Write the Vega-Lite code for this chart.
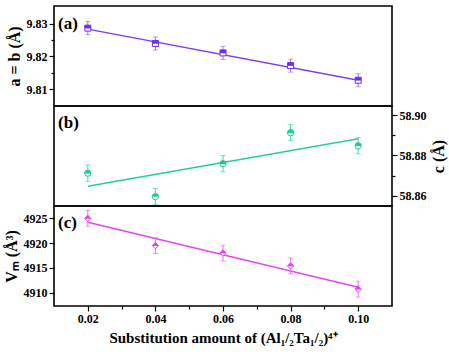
{
  "$schema": "https://vega.github.io/schema/vega-lite/v6.json",
  "padding": {"left": 2, "top": 5, "right": 4, "bottom": 5},
  "background": "white",
  "spacing": 0,
  "bounds": "flush",
  "config": {
    "view": {"stroke": "black", "strokeWidth": 1.6},
    "font": "Liberation Serif",
    "axis": {
      "labelFont": "Liberation Serif", "labelFontWeight": "bold", "labelFontSize": 12, "labelColor": "black",
      "titleFont": "Liberation Serif", "titleFontWeight": "bold", "titleFontSize": 16, "titleColor": "black",
      "tickColor": "black", "tickWidth": 1.2, "domain": false, "grid": false, "labelPadding": 2
    }
  },
  "datasets": {
    "a_pts": [
      {"x": 0.02, "y": 9.8287, "err": 0.002},
      {"x": 0.04, "y": 9.8240, "err": 0.002},
      {"x": 0.06, "y": 9.8211, "err": 0.002},
      {"x": 0.08, "y": 9.8172, "err": 0.002},
      {"x": 0.10, "y": 9.8127, "err": 0.002}
    ],
    "a_fit": [{"x": 0.02, "y": 9.8284}, {"x": 0.10, "y": 9.8127}],
    "a_lab": [{"x": 0.0112, "y": 9.8300, "t": "(a)"}],
    "b_pts": [
      {"x": 0.02, "y": 58.8712, "err": 0.004},
      {"x": 0.04, "y": 58.8596, "err": 0.004},
      {"x": 0.06, "y": 58.8759, "err": 0.004},
      {"x": 0.08, "y": 58.8913, "err": 0.004},
      {"x": 0.10, "y": 58.8848, "err": 0.004}
    ],
    "b_fit": [{"x": 0.02, "y": 58.8647}, {"x": 0.10, "y": 58.8883}],
    "b_lab": [{"x": 0.0112, "y": 58.896, "t": "(b)"}],
    "c_pts": [
      {"x": 0.02, "y": 4925.0, "err": 1.6},
      {"x": 0.04, "y": 4919.5, "err": 1.6},
      {"x": 0.06, "y": 4918.0, "err": 1.6},
      {"x": 0.08, "y": 4915.4, "err": 1.6},
      {"x": 0.10, "y": 4910.7, "err": 1.6}
    ],
    "c_fit": [{"x": 0.02, "y": 4924.2}, {"x": 0.10, "y": 4911.1}],
    "c_lab": [{"x": 0.0112, "y": 4924.0, "t": "(c)"}]
  },
  "vconcat": [
    {
      "width": 338, "height": 100,
      "encoding": {
        "x": {"field": "x", "type": "quantitative", "scale": {"domain": [0.01, 0.11]}, "axis": null},
        "y": {"field": "y", "type": "quantitative", "scale": {"domain": [9.8048, 9.8355], "zero": false, "nice": false},
          "axis": {"title": "a = b (Å)", "values": [9.81, 9.815, 9.82, 9.825, 9.83], "format": ".2f",
            "labelExpr": "round(datum.value*1000)%10==0 ? datum.label : ''",
            "tickSize": {"condition": {"test": "round(datum.value*1000)%10==0", "value": 5}, "value": 3},
            "titlePadding": 4}}
      },
      "layer": [
        {"data": {"name": "a_fit"}, "mark": {"type": "line", "color": "#7a40f0", "strokeWidth": 1.5}},
        {"data": {"name": "a_pts"}, "mark": {"type": "errorbar", "ticks": {"size": 5}, "color": "#9a72f2", "thickness": 1},
          "encoding": {"yError": {"field": "err"}}},
        {"data": {"name": "a_pts"}, "mark": {"type": "point", "shape": "square", "filled": true, "fill": "white", "stroke": "#6a2ff0", "strokeWidth": 1, "size": 36, "opacity": 1}},
        {"data": {"name": "a_pts"}, "mark": {"type": "point", "shape": "M-1,-1H1V0.1H-1Z", "filled": true, "fill": "#6a2ff0", "strokeWidth": 0, "size": 36, "opacity": 1}},
        {"data": {"name": "a_lab"}, "mark": {"type": "text", "align": "left", "baseline": "middle", "font": "Liberation Serif", "fontWeight": "bold", "fontSize": 17, "color": "black"},
          "encoding": {"text": {"field": "t"}}}
      ]
    },
    {
      "width": 338, "height": 100,
      "encoding": {
        "x": {"field": "x", "type": "quantitative", "scale": {"domain": [0.01, 0.11]}, "axis": null},
        "y": {"field": "y", "type": "quantitative", "scale": {"domain": [58.8549, 58.9045], "zero": false, "nice": false},
          "axis": {"orient": "right", "title": "c (Å)", "titleAngle": 270, "titleBaseline": "top", "values": [58.86, 58.87, 58.88, 58.89, 58.90], "format": ".2f",
            "labelExpr": "round(datum.value*100)%2==0 ? datum.label : ''",
            "tickSize": {"condition": {"test": "round(datum.value*100)%2==0", "value": 5}, "value": 3},
            "titlePadding": 4}}
      },
      "layer": [
        {"data": {"name": "b_fit"}, "mark": {"type": "line", "color": "#22d09a", "strokeWidth": 1.5}},
        {"data": {"name": "b_pts"}, "mark": {"type": "errorbar", "ticks": {"size": 5}, "color": "#40d8a8", "thickness": 1},
          "encoding": {"yError": {"field": "err"}}},
        {"data": {"name": "b_pts"}, "mark": {"type": "point", "shape": "circle", "filled": true, "fill": "white", "stroke": "#1fc890", "strokeWidth": 1, "size": 40, "opacity": 1}},
        {"data": {"name": "b_pts"}, "mark": {"type": "point", "shape": "M-1,0.1A1,1 0 0 1 1,0.1Z", "filled": true, "fill": "#1fc890", "strokeWidth": 0, "size": 40, "opacity": 1}},
        {"data": {"name": "b_lab"}, "mark": {"type": "text", "align": "left", "baseline": "middle", "font": "Liberation Serif", "fontWeight": "bold", "fontSize": 17, "color": "black"},
          "encoding": {"text": {"field": "t"}}}
      ]
    },
    {
      "width": 338, "height": 100,
      "encoding": {
        "x": {"field": "x", "type": "quantitative", "scale": {"domain": [0.01, 0.11]},
          "axis": {"title": "Substitution amount of (Al₁/₂Ta₁/₂)⁴⁺", "titleFontSize": 15, "values": [0.02, 0.03, 0.04, 0.05, 0.06, 0.07, 0.08, 0.09, 0.10], "format": ".2f",
            "labelExpr": "round(datum.value*100)%2==0 ? datum.label : ''",
            "tickSize": {"condition": {"test": "round(datum.value*100)%2==0", "value": 5}, "value": 3},
            "titlePadding": 6}},
        "y": {"field": "y", "type": "quantitative", "scale": {"domain": [4907.3, 4927.5], "zero": false, "nice": false},
          "axis": {"title": "Vₘ (Å³)", "values": [4910, 4915, 4920, 4925], "format": "d", "tickSize": 5, "titlePadding": 4}}
      },
      "layer": [
        {"data": {"name": "c_fit"}, "mark": {"type": "line", "color": "#e048f0", "strokeWidth": 1.5}},
        {"data": {"name": "c_pts"}, "mark": {"type": "errorbar", "ticks": {"size": 5}, "color": "#e870f0", "thickness": 1},
          "encoding": {"yError": {"field": "err"}}},
        {"data": {"name": "c_pts"}, "mark": {"type": "point", "shape": "diamond", "filled": true, "fill": "white", "stroke": "#e040f0", "strokeWidth": 1, "size": 40, "opacity": 1}},
        {"data": {"name": "c_pts"}, "mark": {"type": "point", "shape": "M-1,0.1L0,-1L1,0.1Z", "filled": true, "fill": "#e040f0", "strokeWidth": 0, "size": 40, "opacity": 1}},
        {"data": {"name": "c_lab"}, "mark": {"type": "text", "align": "left", "baseline": "middle", "font": "Liberation Serif", "fontWeight": "bold", "fontSize": 17, "color": "black"},
          "encoding": {"text": {"field": "t"}}}
      ]
    }
  ]
}
